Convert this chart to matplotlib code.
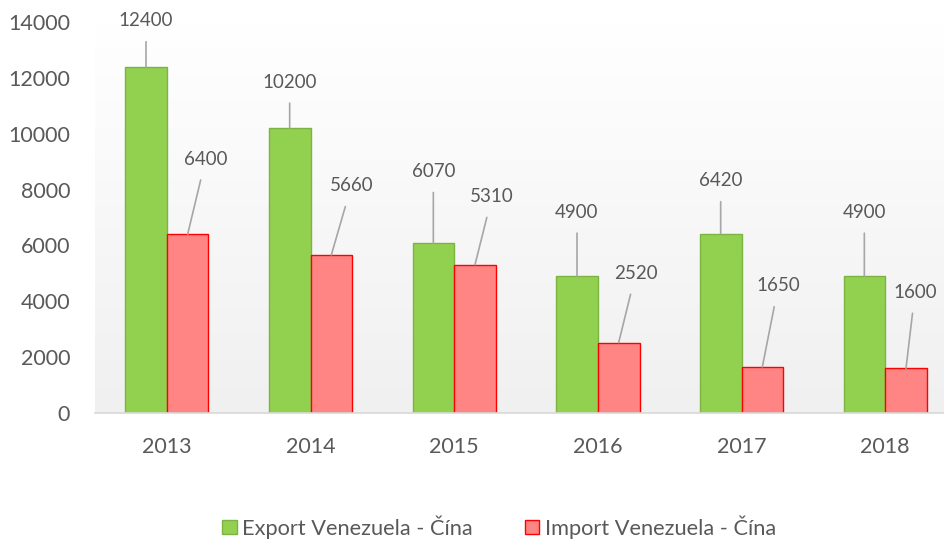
#!/usr/bin/env python3
"""
Venezuela - China trade, grouped bars with leader-line labels.
"""
import numpy as np
import matplotlib.pyplot as plt
from matplotlib.colors import LinearSegmentedColormap

years = ["2013", "2014", "2015", "2016", "2017", "2018"]
export_vals = [12400, 10200, 6070, 4900, 6420, 4900]
import_vals = [6400, 5660, 5310, 2520, 1650, 1600]
yticks = [0, 2000, 4000, 6000, 8000, 10000, 12000, 14000]

# label offsets in pixels (dx, dy) from bar top
export_off = [(0, 46), (0, 46), (0, 72), (0, 64), (0, 53), (0, 64)]
import_off = [(18, 75), (20, 69), (17, 68), (17, 69), (16, 81), (9, 76)]

TXT = "#595959"
plt.rcParams['font.family'] = ['Lato', 'DejaVu Sans']

fig = plt.figure(figsize=(9.44, 5.41), dpi=100)
ax = fig.add_axes([95/944, (541-413)/541, (944-95)/944, (413-22)/541])

# background gradient in plot area
cmap = LinearSegmentedColormap.from_list("bg", ["#ffffff", "#f0f0f0"])
grad = np.linspace(0, 1, 256).reshape(-1, 1)
ax.imshow(grad, cmap=cmap, aspect="auto", extent=[0, 1, 0, 1],
          transform=ax.transAxes, zorder=0)

x = np.arange(len(years))
w = 0.29
b1 = ax.bar(x - w/2, export_vals, w, color="#92d050", edgecolor="#7cb342",
            linewidth=1, label="Export Venezuela - Čína", zorder=2)
b2 = ax.bar(x + w/2, import_vals, w, color="#ff8585", edgecolor="#ff0000",
            linewidth=1, label="Import Venezuela - Čína", zorder=2)

for xi, v, (dx, dy) in zip(x - w/2, export_vals, export_off):
    ax.annotate(str(v), xy=(xi, v), xytext=(dx, dy), textcoords="offset pixels",
                ha="center", va="center", fontsize=13.5, color=TXT,
                arrowprops=dict(arrowstyle="-", color="#a6a6a6", lw=1.2,
                                shrinkA=7, shrinkB=0), zorder=3)
for xi, v, (dx, dy) in zip(x + w/2, import_vals, import_off):
    ax.annotate(str(v), xy=(xi, v), xytext=(dx, dy), textcoords="offset pixels",
                ha="center", va="center", fontsize=13.5, color=TXT,
                arrowprops=dict(arrowstyle="-", color="#a6a6a6", lw=1.2,
                                shrinkA=7, shrinkB=0), zorder=3)

ax.set_xlim(-0.5, 5.5 - 13/143.6)
ax.set_ylim(0, 14000)
ax.set_yticks(yticks)
ax.set_xticks(x)
ax.set_xticklabels(years)
ax.tick_params(axis="both", length=0, labelsize=15.5, colors=TXT)
ax.tick_params(axis="y", pad=18)
ax.tick_params(axis="x", pad=17)
for s in ["top", "right", "left"]:
    ax.spines[s].set_visible(False)
ax.spines["bottom"].set_color("#d9d9d9")
ax.spines["bottom"].set_linewidth(1.2)
ax.spines["bottom"].set_zorder(4)

fig.legend(handles=[b1, b2], loc="center", bbox_to_anchor=(499/944, 1-527/541),
           ncol=2, frameon=False, fontsize=15.7, labelcolor=TXT,
           handlelength=0.65, handleheight=0.65, handletextpad=0.25,
           columnspacing=2.4)

plt.savefig("out.png", dpi=100)
plt.close()
